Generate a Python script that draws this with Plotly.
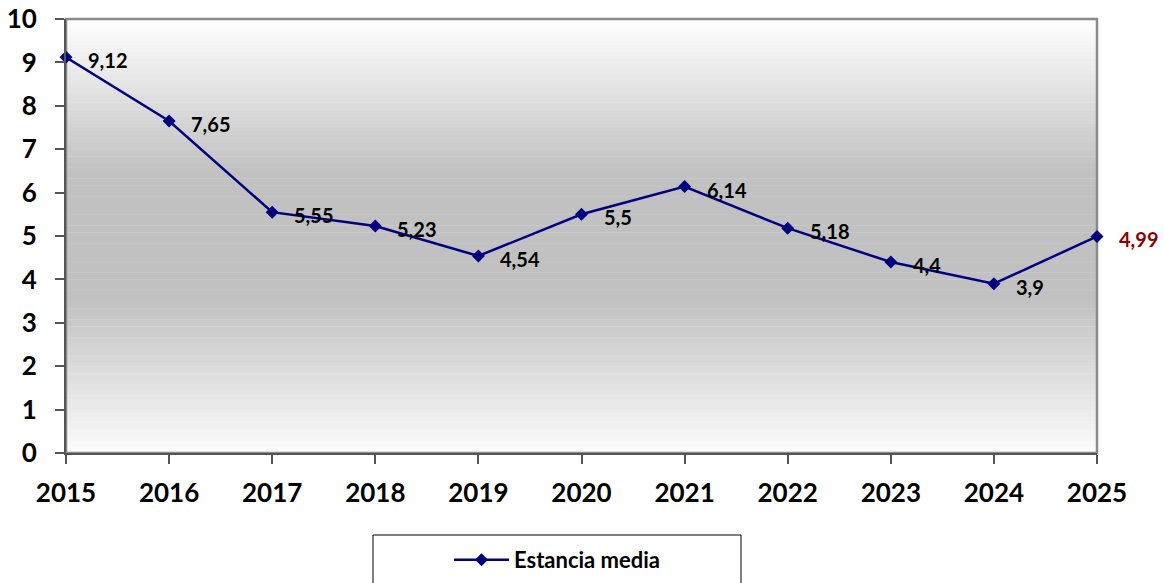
import plotly.graph_objects as go

# Average stay per year
years = [2015, 2016, 2017, 2018, 2019, 2020, 2021, 2022, 2023, 2024, 2025]
estancia_media = [9.12, 7.65, 5.55, 5.23, 4.54, 5.5, 6.14, 5.18, 4.4, 3.9, 4.99]
label_colors = ["#000000"] * 10 + ["#8B0000"]
y_ticks = list(range(0, 11))

FONT = "Lato"
NAVY = "#000080"

fig = go.Figure()

fig.add_trace(go.Scatter(
    x=years,
    y=estancia_media,
    mode="lines+markers",
    name="<b>Estancia media</b>",
    line=dict(color=NAVY, width=2.5),
    marker=dict(symbol="diamond", size=10, color=NAVY),
    cliponaxis=False,
))

# Value labels to the right of each point (comma decimal separator)
for yr, val, col in zip(years, estancia_media, label_colors):
    txt = f"{val:g}".replace(".", ",")
    fig.add_annotation(
        x=yr, y=val, text=f"<b>{txt}</b>", showarrow=False,
        xanchor="left", yanchor="middle", xshift=20, yshift=-3,
        font=dict(family=FONT, size=20, color=col),
    )

# Vertical light-dark-light gradient behind the plot area
stops = [(0.0, 255), (0.35, 193), (0.65, 193), (1.0, 252)]
def shade(t):
    for (t0, v0), (t1, v1) in zip(stops[:-1], stops[1:]):
        if t0 <= t <= t1:
            f = (t - t0) / (t1 - t0) if t1 > t0 else 0
            return v0 + (v1 - v0) * f
    return stops[-1][1]

n = 120
shapes = []
for i in range(n):
    t_top = i / n
    t_mid = (i + 0.5) / n
    v = int(round(shade(t_mid)))
    shapes.append(dict(
        type="rect", xref="x domain", yref="y domain",
        x0=0, x1=1, y0=1 - (i + 1) / n - 0.001, y1=1 - t_top,
        fillcolor=f"rgb({v},{v},{v})", line=dict(width=0), layer="below",
    ))
# Plot-area frame
shapes.append(dict(
    type="rect", xref="x domain", yref="y domain", x0=0, x1=1, y0=0, y1=1,
    line=dict(color="#8a8a8a", width=2.5), fillcolor="rgba(0,0,0,0)", layer="below",
))
# Legend frame
shapes.append(dict(
    type="rect", xref="paper", yref="paper",
    x0=(373 - 66) / 1031, x1=(741 - 66) / 1031,
    y0=(453 - 600) / 434, y1=(453 - 535) / 434,
    line=dict(color="#000000", width=1), fillcolor="rgba(0,0,0,0)",
))

fig.update_layout(
    width=1164, height=583,
    margin=dict(l=66, r=67, t=19, b=130, autoexpand=False),
    paper_bgcolor="white",
    plot_bgcolor="white",
    shapes=shapes,
    showlegend=True,
    legend=dict(
        orientation="h", x=(449 - 66) / 1031, xanchor="left",
        y=(453 - 560) / 434, yanchor="middle",
        font=dict(family=FONT, size=22, color="#000000"),
        bgcolor="rgba(0,0,0,0)", itemwidth=55,
    ),
    xaxis=dict(
        range=[2015, 2025], tickmode="array", tickvals=years,
        ticktext=[f"<b>{y}</b>" for y in years],
        tickfont=dict(family=FONT, size=26, color="#000000"),
        ticks="outside", ticklen=9, tickwidth=1.5, tickcolor="#555555",
        showline=True, linecolor="#555555", linewidth=2,
        showgrid=False, zeroline=False, ticklabelstandoff=7,
        automargin=False,
    ),
    yaxis=dict(
        range=[0, 10], tickmode="array", tickvals=y_ticks,
        ticktext=[f"<b>{v}</b>" for v in y_ticks],
        tickfont=dict(family=FONT, size=26, color="#000000"),
        ticks="outside", ticklen=9, tickwidth=1.5, tickcolor="#555555",
        showline=True, linecolor="#555555", linewidth=2,
        showgrid=False, zeroline=False, ticklabelstandoff=13,
        automargin=False,
    ),
)

fig.write_html("out.html")
